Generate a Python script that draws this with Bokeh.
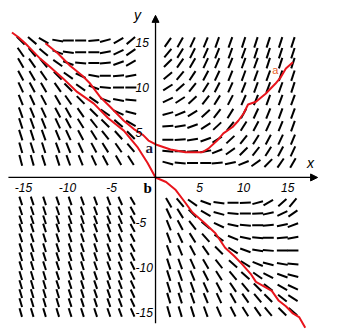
import math
from bokeh.plotting import figure
from bokeh.models import Arrow, NormalHead, Range1d
from bokeh.core.properties import value
from bokeh.embed import file_html
from bokeh.resources import INLINE

# ---------------- data ----------------
X_TICKS = [-15, -10, -5, 5, 10, 15]
Y_TICKS = [15, 10, 5, -5, -10, -15]

# upper-left quadrant grid and segment angles (degrees)
UL_X = [-15.3, -14.0, -12.7, -11.1, -9.9, -8.5, -7.0, -5.7, -4.2, -2.8]
UL_Y = [15.2, 13.9, 12.7, 11.3, 10.0, 8.6, 7.2, 6.0, 4.7, 3.3, 1.9]
UL_ANG = [
    [-45, -40, -30, -10, 0, 0, 5, 15, 30, 40],
    [-55, -50, -40, -20, -8, 0, 0, 10, 25, 35],
    [-60, -55, -50, -35, -20, -5, 0, 5, 20, 30],
    [-62, -60, -55, -45, -35, -25, -10, 0, 5, 10],
    [-65, -62, -60, -55, -45, -35, -20, -5, 0, 0],
    [-68, -65, -62, -60, -55, -45, -35, -20, -10, -5],
    [-70, -68, -65, -62, -60, -55, -45, -35, -25, -15],
    [-72, -70, -68, -65, -62, -58, -52, -45, -40, -30],
    [-72, -72, -70, -68, -65, -62, -58, -52, -48, -45],
    [-74, -72, -72, -70, -68, -65, -62, -58, -55, -50],
    [-75, -74, -72, -72, -70, -68, -65, -62, -60, -58],
]

# upper-right quadrant
UR_X = [1.4, 2.8, 4.2, 5.7, 7.0, 8.5, 10.0, 11.4, 12.8, 14.2, 15.6]
UR_Y = [15.0, 13.8, 12.7, 11.3, 10.0, 8.6, 7.1, 5.7, 4.2, 2.9, 1.6]
UR_ANG = [
    [55, 60, 65, 68, 70, 70, 72, 72, 72, 72, 72],
    [50, 58, 63, 66, 68, 70, 70, 72, 72, 72, 72],
    [45, 55, 60, 65, 67, 68, 70, 70, 72, 72, 72],
    [40, 50, 57, 62, 65, 68, 70, 70, 70, 72, 72],
    [32, 42, 52, 58, 63, 66, 68, 70, 70, 70, 72],
    [25, 33, 43, 52, 58, 63, 66, 68, 70, 70, 70],
    [15, 22, 32, 42, 52, 58, 62, 65, 68, 70, 70],
    [5, 10, 20, 32, 43, 52, 58, 62, 65, 68, 70],
    [0, 3, 10, 20, 32, 43, 52, 58, 62, 65, 68],
    [-5, 0, 3, 10, 22, 35, 45, 52, 58, 62, 65],
    [-15, -5, 0, 0, 5, 12, 22, 35, 45, 55, 60],
]

# lower-right quadrant
LR_X = [1.5, 2.8, 4.2, 5.7, 7.2, 8.8, 10.2, 11.6, 12.8, 14.4, 15.6]
LR_Y = [-2.8, -4.0, -5.3, -6.7, -8.1, -9.6, -10.9, -12.2, -13.4, -14.9]
LR_ANG = [
    [-60, -50, -35, -20, -8, 0, 3, 15, 30, 42, 50],
    [-65, -58, -45, -30, -15, -5, 0, 3, 12, 25, 35],
    [-68, -62, -52, -40, -25, -12, -5, 0, 5, 12, 20],
    [-70, -65, -58, -48, -35, -22, -12, -5, 0, 5, 10],
    [-70, -68, -62, -55, -45, -32, -20, -10, -5, 0, 0],
    [-72, -70, -66, -60, -52, -42, -32, -22, -15, -10, -5],
    [-72, -70, -68, -63, -58, -50, -42, -35, -28, -20, -15],
    [-73, -72, -70, -66, -62, -56, -50, -45, -38, -30, -25],
    [-73, -72, -70, -68, -65, -60, -55, -50, -45, -38, -32],
    [-74, -73, -72, -70, -67, -63, -58, -55, -50, -45, -40],
]

# lower-left quadrant
LL_X = [-15.3, -14.0, -12.6, -11.1, -9.7, -8.3, -6.8, -5.3, -4.0, -2.6]
LL_Y = [-2.6, -3.7, -4.7, -5.6, -6.7, -7.8, -8.8, -9.8, -10.9, -11.9, -12.9, -13.9, -15.0]
LL_ANG = [
    [-72, -72, -72, -71, -71, -70, -70, -69, -66, -60],
    [-72, -72, -72, -71, -71, -70, -70, -69, -66, -61],
    [-72, -72, -72, -72, -71, -71, -70, -69, -67, -62],
    [-72, -72, -72, -72, -71, -71, -70, -70, -67, -62],
    [-72, -72, -72, -72, -72, -71, -70, -70, -68, -63],
    [-73, -72, -72, -72, -72, -71, -71, -70, -68, -63],
    [-73, -73, -72, -72, -72, -71, -71, -70, -68, -64],
    [-73, -73, -72, -72, -72, -72, -71, -70, -68, -64],
    [-73, -73, -73, -72, -72, -72, -71, -70, -69, -64],
    [-73, -73, -73, -72, -72, -72, -71, -71, -69, -65],
    [-73, -73, -73, -73, -72, -72, -71, -71, -69, -65],
    [-73, -73, -73, -73, -72, -72, -72, -71, -69, -65],
    [-74, -73, -73, -73, -72, -72, -72, -71, -70, -66],
]

# red solution curves
CURVE_A_X = [-12.5, -11.1, -9.7, -8.3, -7.4, -6.25, -5.1, -3.6, -2.5, -1.4, -0.8, 0.2,
             1.7, 3.4, 5.3, 6.0, 7.0, 7.7, 8.75, 9.4, 10.0, 10.5, 11.4, 12.5, 13.1,
             13.6, 14.2, 14.8, 15.6]
CURVE_A_Y = [14.9, 13.8, 12.4, 11.3, 10.4, 8.9, 7.8, 6.3, 5.4, 4.7, 4.1, 3.6,
             3.1, 2.8, 2.8, 3.2, 4.1, 4.9, 5.6, 6.3, 7.1, 8.1, 8.4, 9.3, 9.9,
             10.4, 11.1, 12.1, 12.8]
CURVE_B_X = [-16.3, -15.6, -14.8, -13.9, -13.1, -12.0, -10.5, -8.9, -7.0, -5.4, -3.6,
             -2.0, -0.9, 0.0, 1.2, 2.3, 3.3, 4.2, 5.5, 6.8, 7.9, 8.9, 9.8, 10.8,
             11.4, 12.5, 13.2, 14.0, 14.8, 15.6, 16.3, 17.0]
CURVE_B_Y = [16.1, 15.6, 14.9, 14.0, 13.2, 12.3, 11.0, 9.5, 8.2, 6.6, 5.2,
             3.3, 1.6, 0.0, -0.5, -1.4, -2.7, -3.9, -5.0, -6.2, -7.8, -8.7, -9.6, -10.7,
             -11.6, -12.2, -12.6, -13.7, -14.3, -15.1, -15.5, -16.7]

# ---------------- figure ----------------
W, H = 340, 335
X0, X1 = -17.6, 21.0
Y0, Y1 = -17.55, 19.65
SX = W / (X1 - X0)
SY = H / (Y1 - Y0)

p = figure(width=W, height=H, x_range=Range1d(X0, X1), y_range=Range1d(Y0, Y1),
           output_backend="svg", toolbar_location=None, min_border=0)
p.axis.visible = False
p.grid.visible = False
p.outline_line_color = None
p.background_fill_color = "white"
p.border_fill_color = "white"


def field(xs, ys, angs, length):
    x0, y0, x1, y1 = [], [], [], []
    for i, yv in enumerate(ys):
        for j, xv in enumerate(xs):
            t = math.radians(angs[i][j])
            dx = math.cos(t) * length / 2 / SX
            dy = math.sin(t) * length / 2 / SY
            x0.append(xv - dx); x1.append(xv + dx)
            y0.append(yv - dy); y1.append(yv + dy)
    return x0, y0, x1, y1


for xs, ys, angs, ln in [(UL_X, UL_Y, UL_ANG, 11), (UR_X, UR_Y, UR_ANG, 11),
                         (LR_X, LR_Y, LR_ANG, 11), (LL_X, LL_Y, LL_ANG, 9)]:
    a, b, c, d = field(xs, ys, angs, ln)
    p.segment(a, b, c, d, line_color="black", line_width=2)

# axes with arrows
p.add_layout(Arrow(end=NormalHead(size=7, fill_color="black", line_color="black"),
                   x_start=X0 + 0.9, y_start=0, x_end=18.4, y_end=0,
                   line_color="black", line_width=1.3))
p.add_layout(Arrow(end=NormalHead(size=7, fill_color="black", line_color="black"),
                   x_start=0, y_start=-16.2, x_end=0, y_end=18.0,
                   line_color="black", line_width=1.3))

# red curves
p.line(CURVE_B_X, CURVE_B_Y, line_color="#e8141c", line_width=2)
p.line(CURVE_A_X, CURVE_A_Y, line_color="#e8141c", line_width=2)

font = value("Liberation Sans")
p.text(x=X_TICKS, y=[0] * len(X_TICKS), text=[str(v) for v in X_TICKS],
       text_align="center", text_baseline="middle", y_offset=10,
       text_font=font, text_font_style="italic", text_font_size="12px", text_color="black")
p.text(x=[0] * len(Y_TICKS), y=Y_TICKS, text=[str(v) for v in Y_TICKS],
       text_align="left", text_baseline="middle", x_offset=-20,
       text_font=font, text_font_style="italic", text_font_size="12px", text_color="black")

p.text(x=[0], y=[18.0], text=["y"], text_align="center", text_baseline="middle",
       x_offset=-18, text_font=font, text_font_style="italic", text_font_size="14px")
p.text(x=[17.6], y=[0], text=["x"], text_align="center", text_baseline="middle",
       y_offset=-14, text_font=font, text_font_style="italic", text_font_size="14px")

serif = value("Liberation Serif")
p.text(x=[-0.7], y=[3.3], text=["a"], text_align="center", text_baseline="middle",
       text_font=serif, text_font_style="bold", text_font_size="15px", text_color="#1a1a3a")
p.text(x=[-0.9], y=[-1.2], text=["b"], text_align="center", text_baseline="middle",
       text_font=serif, text_font_style="bold", text_font_size="15px", text_color="black")
p.text(x=[13.6], y=[11.9], text=["a"], text_align="center", text_baseline="middle",
       text_font=font, text_font_size="11px", text_color="#e8602a")

open("out.html", "w").write(file_html(p, INLINE))
